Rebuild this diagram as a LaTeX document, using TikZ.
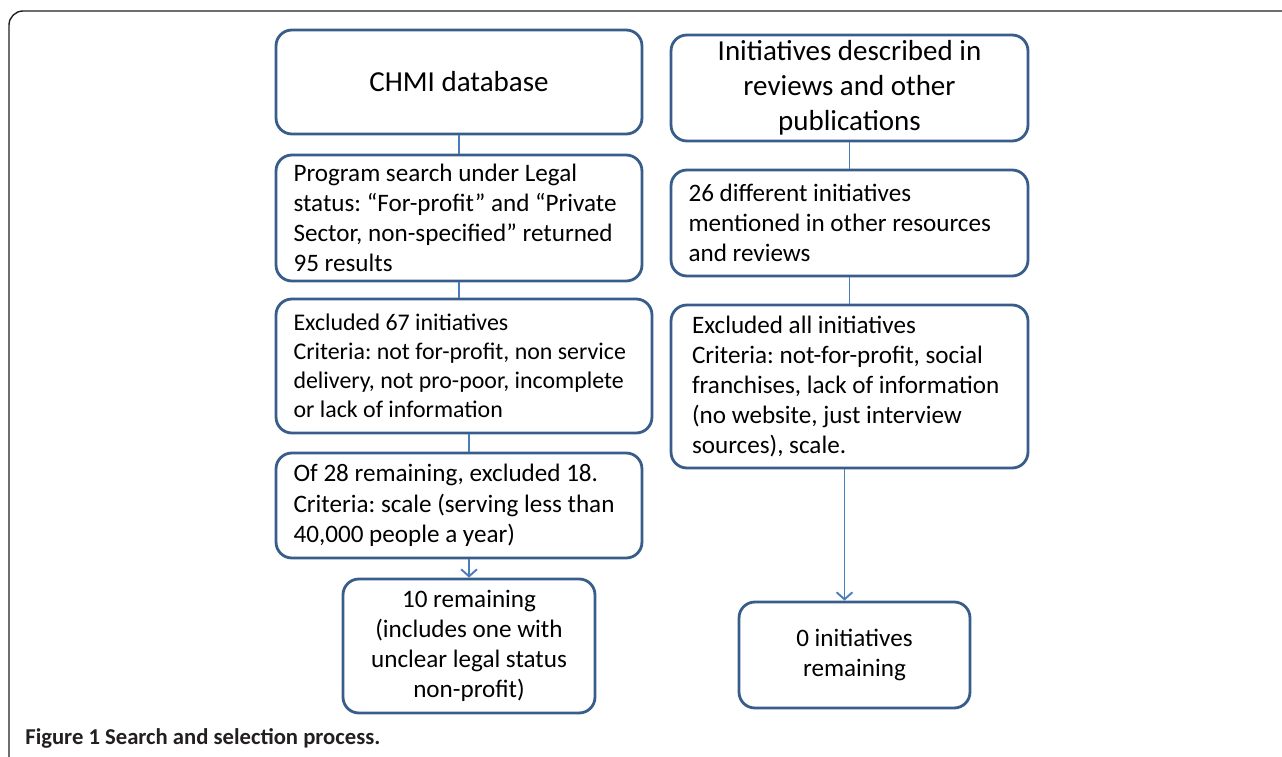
\documentclass[tikz,border=0pt]{standalone}
\usepackage{fontspec}
\setmainfont{Carlito}
\usepackage{xcolor}
\usepackage{tikz}
\usetikzlibrary{arrows.meta, positioning, calc}
\definecolor{boxblue}{RGB}{56,93,138}
\definecolor{linkblue}{RGB}{74,126,187}
\definecolor{captiongray}{RGB}{35,31,32}
\frenchspacing

\begin{document}
\begin{tikzpicture}[x=0.02cm, y=-0.02cm,
    box/.style={rectangle, draw=boxblue, line width=1.6pt, rounded corners=9pt, inner xsep=0.35cm, inner ysep=0pt, align=flush left, font=\fontsize{14.3}{17.2}\selectfont},
    headbox/.style={box, align=center, font=\fontsize{16.5}{19.9}\selectfont},
    link/.style={draw=linkblue, line width=1.1pt},
    arrow/.style={link, -{Straight Barb[length=4pt, width=9pt, line width=1.1pt]}}
]
    \useasboundingbox (0,0) rectangle (1282,757);

    % Frame
    \draw[captiongray, line width=0.8pt, rounded corners=8pt] (9,770) -- (9,11) -- (1290,11);

    % Left column
    \node[headbox, minimum width=7.32cm, minimum height=2.08cm] (chmi) at (459,82) {CHMI database};
    \node[box, text width=6.62cm, minimum width=7.32cm, minimum height=2.52cm] (search) at (459,218)
        {Program search under Legal\\status: “For-profit” and “Private\\Sector, non-specified” returned\\95 results};
    \node[box, text width=6.82cm, minimum width=7.52cm, minimum height=2.68cm, font=\fontsize{13.6}{16.4}\selectfont] (excl67) at (464,366)
        {Excluded 67 initiatives\\Criteria: not for-profit, non service\\delivery, not pro-poor, incomplete\\or lack of information};
    \node[box, text width=6.62cm, minimum width=7.32cm, minimum height=2.1cm] (scale) at (459,505.5)
        {Of 28 remaining, excluded 18.\\Criteria: scale (serving less than\\40,000 people a year)};
    \node[box, align=center, minimum width=5.04cm, minimum height=2.68cm] (ten) at (469,646)
        {10 remaining\\(includes one with\\unclear legal status\\non-profit)};

    % Right column
    \node[headbox, minimum width=7.14cm, minimum height=2.12cm] (reviews) at (849.5,88)
        {Initiatives described in\\reviews and other\\publications};
    \node[box, text width=6.44cm, minimum width=7.14cm, minimum height=2.12cm] (twentysix) at (849.5,223)
        {26 different initiatives\\mentioned in other resources\\and reviews};
    \node[box, inner xsep=0.42cm, text width=6.3cm, minimum width=7.14cm, minimum height=3.26cm] (exclall) at (849.5,386.5)
        {Excluded all initiatives\\Criteria: not-for-profit, social\\franchises, lack of information\\(no website, just interview\\sources), scale.};
    \node[box, align=center, minimum width=4.62cm, minimum height=2.12cm] (zero) at (854.5,655)
        {0 initiatives\\remaining};

    % Connectors
    \draw[link] (chmi) -- (search);
    \draw[link] (search) -- (search.south |- excl67.north);
    \draw[link] (excl67.south -| ten) -- (scale.north -| ten);
    \draw[arrow] (scale.south -| ten) -- (ten);
    \draw[link] (reviews) -- (twentysix);
    \draw[link] (twentysix) -- (exclall);
    \draw[arrow] ([xshift=-0.1cm]exclall.south) -- ([xshift=-0.1cm]exclall.south |- zero.north);

    % Caption
    \node[anchor=west, inner sep=0pt, text=captiongray, font=\fontsize{12.9}{15}\selectfont\bfseries] (caption) at (25,738)
        {Figure 1 Search and selection process.};

\end{tikzpicture}
\end{document}
